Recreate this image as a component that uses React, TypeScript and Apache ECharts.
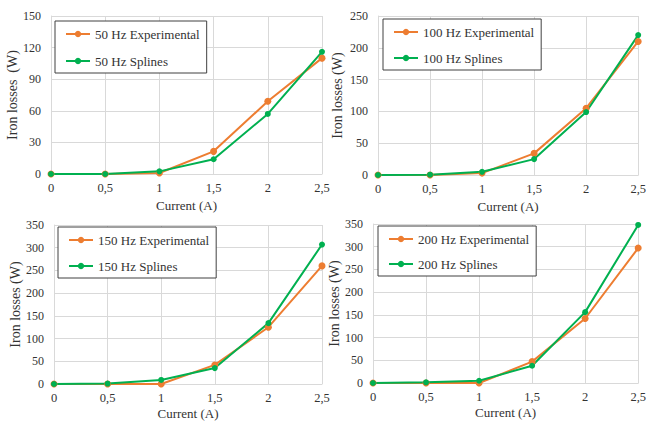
import React, { useEffect, useRef } from "react";
import * as echarts from "echarts";

const currentLabels = ["0", "0,5", "1", "1,5", "2", "2,5"];

const exp50 = [0, 0, 1, 21.5, 69, 110];
const spl50 = [0, 0, 2.5, 14, 57, 116];
const exp100 = [0, 0, 3, 34, 105, 210];
const spl100 = [0, 0.5, 5, 25, 99, 220];
const exp150 = [0, 0, 0, 42, 125, 260];
const spl150 = [0, 1, 9, 35, 134, 307];
const exp200 = [0, 0, 0, 47, 142, 297];
const spl200 = [0, 1.5, 5, 38, 156, 348];

const yMax = [150, 250, 350, 350];
const yInterval = [30, 50, 50, 50];
const freqs = ["50", "100", "150", "200"];
const yNames = ["Iron losses  (W)", "Iron losses (W)", "Iron losses (W)", "Iron losses (W)"];

const ORANGE = "#ED7D31";
const GREEN = "#00B050";
const GRIDC = "#D9D9D9";
const TEXT = "#333333";
const FONT = "'Liberation Serif', 'Times New Roman', serif";

export default function App() {
  const ref = useRef<HTMLDivElement>(null);
  useEffect(() => {
    if (!ref.current) return;
    const chart = echarts.init(ref.current, undefined, { renderer: "svg" });
    const grids = [
      { left: 51, top: 16, width: 271, height: 158 },
      { left: 378, top: 16, width: 263, height: 159 },
      { left: 54, top: 225, width: 268, height: 159 },
      { left: 373, top: 224, width: 266, height: 159 },
    ];
    const yNameGaps = [28, 34, 32, 32];
    const xNameGaps = [25, 25, 23, 23];
    const expData = [exp50, exp100, exp150, exp200];
    const splData = [spl50, spl100, spl150, spl200];
    const legendPos = [
      { left: 55, top: 21 },
      { left: 383, top: 19 },
      { left: 58, top: 227 },
      { left: 378, top: 226 },
    ];
    const legendGap = [13, 12, 12, 11];

    const xAxis = grids.map((_, i) => ({
      type: "category",
      gridIndex: i,
      data: currentLabels,
      boundaryGap: false,
      axisLine: { show: true, lineStyle: { color: GRIDC } },
      axisTick: { show: false },
      splitLine: { show: true, lineStyle: { color: GRIDC, width: 1 } },
      axisLabel: { color: TEXT, fontFamily: FONT, fontSize: 12.5, margin: 7 },
      name: "Current (A)",
      nameLocation: "middle",
      nameGap: xNameGaps[i],
      nameTextStyle: { color: TEXT, fontFamily: FONT, fontSize: 13 },
    }));
    const yAxis = grids.map((_, i) => ({
      type: "value",
      gridIndex: i,
      min: 0,
      max: yMax[i],
      interval: yInterval[i],
      axisLine: { show: true, lineStyle: { color: GRIDC } },
      axisTick: { show: false },
      splitLine: { show: true, lineStyle: { color: GRIDC, width: 1 } },
      axisLabel: { color: TEXT, fontFamily: FONT, fontSize: 12, margin: 10 },
      name: yNames[i],
      nameLocation: "middle",
      nameGap: yNameGaps[i],
      nameTextStyle: { color: TEXT, fontFamily: FONT, fontSize: 14 },
    }));
    const series: any[] = [];
    grids.forEach((_, i) => {
      series.push({
        type: "line",
        name: freqs[i] + " Hz Experimental",
        xAxisIndex: i,
        yAxisIndex: i,
        data: expData[i],
        symbol: "circle",
        symbolSize: 7,
        lineStyle: { color: ORANGE, width: 2 },
        itemStyle: { color: ORANGE },
      });
      series.push({
        type: "line",
        name: freqs[i] + " Hz Splines",
        xAxisIndex: i,
        yAxisIndex: i,
        data: splData[i],
        symbol: "circle",
        symbolSize: 6,
        lineStyle: { color: GREEN, width: 2 },
        itemStyle: { color: GREEN },
      });
    });
    const legend = grids.map((_, i) => ({
      orient: "vertical",
      left: legendPos[i].left,
      top: legendPos[i].top,
      data: [freqs[i] + " Hz Experimental", freqs[i] + " Hz Splines"],
      backgroundColor: "#ffffff",
      borderColor: "#404040",
      borderWidth: 1,
      borderRadius: 0,
      padding: [6, 7, 5, 10],
      itemGap: legendGap[i],
      itemWidth: 24,
      itemHeight: 8,
      textStyle: { color: TEXT, fontFamily: FONT, fontSize: 13, lineHeight: 14 },
      selectedMode: false,
    }));
    chart.setOption({
      animation: false,
      backgroundColor: "#ffffff",
      grid: grids,
      xAxis,
      yAxis,
      series,
      legend,
    });
    return () => chart.dispose();
  }, []);
  return (
    <div
      ref={ref}
      style={{ position: "fixed", left: 0, top: 0, width: 649, height: 421 }}
    />
  );
}
